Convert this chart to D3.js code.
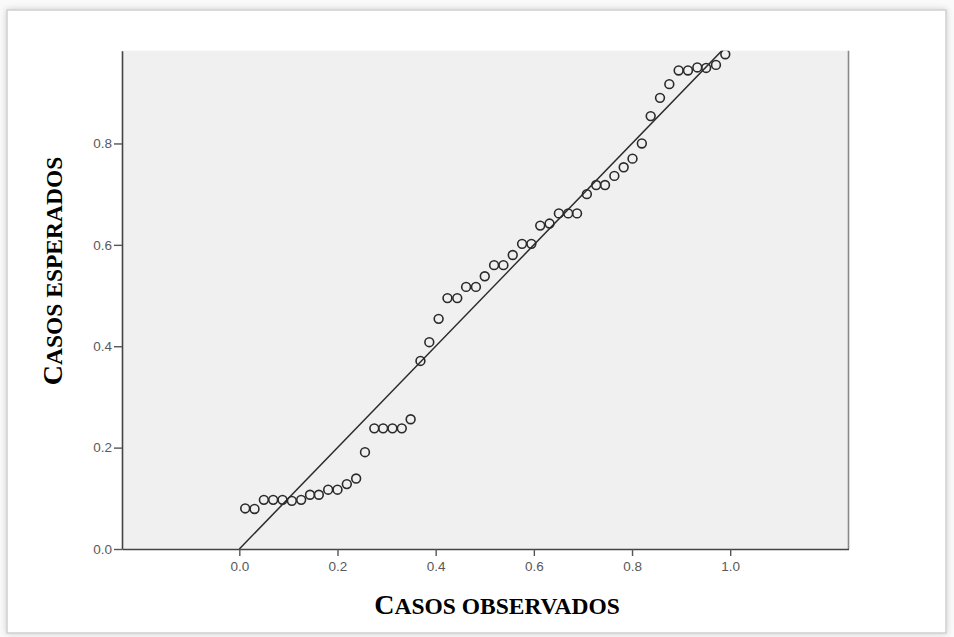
<!DOCTYPE html>
<html>
<head>
<meta charset="utf-8">
<script src="https://cdn.jsdelivr.net/npm/d3@7"></script>
<style>
  html, body { margin: 0; padding: 0; background: #fafafa; }
  svg { display: block; }
</style>
</head>
<body>
<div id="viz"></div>
<script>
const observed = [
  0.012, 0.031, 0.050, 0.069, 0.088, 0.107, 0.126, 0.144, 0.162, 0.181,
  0.200, 0.219, 0.238, 0.256, 0.275, 0.293, 0.312, 0.331, 0.349, 0.369,
  0.387, 0.406, 0.424, 0.444, 0.462, 0.482, 0.500, 0.519, 0.538, 0.557,
  0.576, 0.595, 0.613, 0.632, 0.651, 0.670, 0.688, 0.708, 0.727, 0.745,
  0.764, 0.783, 0.801, 0.820, 0.838, 0.857, 0.876, 0.895, 0.914, 0.933,
  0.951, 0.971, 0.990
];
const expected = [
  0.080, 0.079, 0.097, 0.097, 0.097, 0.095, 0.097, 0.107, 0.107, 0.117,
  0.117, 0.128, 0.139, 0.191, 0.238, 0.238, 0.238, 0.238, 0.256, 0.371,
  0.408, 0.454, 0.495, 0.495, 0.517, 0.517, 0.538, 0.560, 0.560, 0.580,
  0.602, 0.602, 0.638, 0.642, 0.662, 0.662, 0.662, 0.700, 0.718, 0.718,
  0.736, 0.753, 0.770, 0.800, 0.854, 0.890, 0.917, 0.944, 0.944, 0.950,
  0.949, 0.955, 0.976
];
const refLine = [[0, 0], [1, 1]];

const xTicks = [0, 0.2, 0.4, 0.6, 0.8, 1.0];
const yTicks = [0, 0.2, 0.4, 0.6, 0.8];
const xDomain = [-0.239, 1.241];
const yDomain = [0, 0.983];

const xTitle = ["C", "ASOS OBSERVADOS"];
const yTitle = ["C", "ASOS ESPERADOS"];

const W = 954, H = 637;
const plot = { left: 122, right: 848.5, top: 50.7, bottom: 549 };

const svg = d3.select("#viz").append("svg")
  .attr("width", W)
  .attr("height", H);

const defs = svg.append("defs");
const shadow = defs.append("filter").attr("id", "shadow")
  .attr("x", "-5%").attr("y", "-5%").attr("width", "110%").attr("height", "110%");
shadow.append("feDropShadow")
  .attr("dx", 0).attr("dy", 0).attr("stdDeviation", 3)
  .attr("flood-color", "#000").attr("flood-opacity", 0.18);
defs.append("clipPath").attr("id", "plotClip")
  .append("rect")
  .attr("x", plot.left).attr("y", plot.top)
  .attr("width", plot.right - plot.left)
  .attr("height", plot.bottom - plot.top);

// outer frame
svg.append("rect")
  .attr("x", 7).attr("y", 10)
  .attr("width", 939).attr("height", 623)
  .attr("fill", "#fff")
  .attr("stroke", "#cfcfcf")
  .attr("stroke-width", 1.5)
  .attr("filter", "url(#shadow)");

const x = d3.scaleLinear().domain(xDomain).range([plot.left, plot.right]);
const y = d3.scaleLinear().domain(yDomain).range([plot.bottom, plot.top]);

// plot background
svg.append("rect")
  .attr("x", plot.left).attr("y", plot.top)
  .attr("width", plot.right - plot.left)
  .attr("height", plot.bottom - plot.top)
  .attr("fill", "#f0f0f0");

// right border
svg.append("line")
  .attr("x1", plot.right).attr("x2", plot.right)
  .attr("y1", plot.top).attr("y2", plot.bottom)
  .attr("stroke", "#8a8a8a")
  .attr("stroke-width", 1.6);

const g = svg.append("g").attr("clip-path", "url(#plotClip)");

g.append("path")
  .datum(refLine)
  .attr("d", d3.line().x(d => x(d[0])).y(d => y(d[1])))
  .attr("fill", "none")
  .attr("stroke", "#2a2a2a")
  .attr("stroke-width", 1.5);

g.selectAll("circle")
  .data(observed.map((v, i) => [v, expected[i]]))
  .join("circle")
  .attr("cx", d => x(d[0]))
  .attr("cy", d => y(d[1]))
  .attr("r", 4.4)
  .attr("fill", "none")
  .attr("stroke", "#2a2a2a")
  .attr("stroke-width", 1.6);

const fmt = d3.format(".1f");

const xAxis = svg.append("g")
  .attr("transform", `translate(0,${plot.bottom})`)
  .call(d3.axisBottom(x).tickValues(xTicks).tickFormat(fmt).tickSize(7).tickSizeOuter(0).tickPadding(5));

const yAxis = svg.append("g")
  .attr("transform", `translate(${plot.left},0)`)
  .call(d3.axisLeft(y).tickValues(yTicks).tickFormat(fmt).tickSize(8).tickSizeOuter(0).tickPadding(2));

[xAxis, yAxis].forEach(ax => {
  ax.select(".domain").attr("stroke", "#444").attr("stroke-width", 1.6);
  ax.selectAll(".tick line").attr("stroke", "#555").attr("stroke-width", 1.4);
  ax.selectAll(".tick text")
    .attr("fill", "#595959")
    .attr("font-family", "'Liberation Sans', Arial, sans-serif")
    .attr("font-size", 13.5);
});

function smallCapsTitle(sel, parts) {
  sel.attr("font-family", "'Liberation Serif', 'Times New Roman', serif")
    .attr("font-weight", "bold")
    .attr("fill", "#000");
  sel.append("tspan").attr("font-size", 28).text(parts[0]);
  sel.append("tspan").attr("font-size", 23.5).text(parts[1]);
}

svg.append("text")
  .attr("x", 497).attr("y", 614)
  .attr("text-anchor", "middle")
  .call(smallCapsTitle, xTitle);

svg.append("text")
  .attr("transform", "translate(62,271) rotate(-90)")
  .attr("text-anchor", "middle")
  .call(smallCapsTitle, yTitle);
</script>
</body>
</html>
